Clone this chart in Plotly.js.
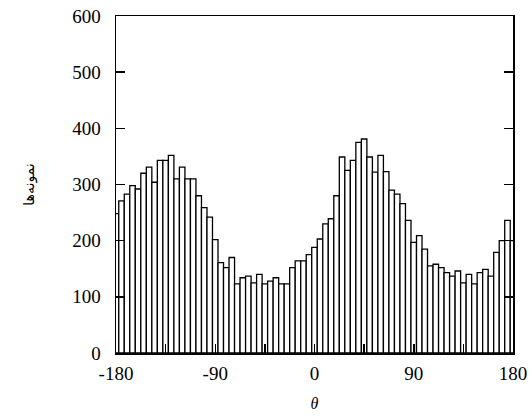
<!DOCTYPE html>
<html>
<head>
<meta charset="utf-8">
<script src="https://cdn.plot.ly/plotly-3.0.1.min.js"></script>
<style>html,body{margin:0;padding:0;background:#fff;}#chart{width:532px;height:416px;}</style>
</head>
<body>
<div id="chart"></div>
<script>
// bin centres (degrees)
const theta = [];
for (let a = -180; a <= 180; a += 5) theta.push(a);
// counts, one per 5-degree bin from -180 to 180
const counts = [
  248, 271, 283, 298, 292, 320, 331, 304, 343, 343,
  352, 310, 331, 310, 310, 280, 259, 242, 202, 161,
  152, 170, 123, 134, 137, 125, 140, 123, 128, 134,
  123, 123, 152, 164, 164, 175, 188, 203, 230, 239,
  280, 349, 325, 343, 375, 381, 349, 322, 352, 323,
  290, 283, 266, 236, 197, 209, 185, 155, 158, 152,
  143, 137, 146, 125, 140, 123, 143, 149, 137, 179,
  200, 236, 200
];
const xTickVals = [-180, -135, -90, -45, 0, 45, 90, 135, 180];
const xTickText = ['-180', '', '-90', '', '0', '', '90', '', '180'];
const yTickVals = [0, 100, 200, 300, 400, 500, 600];

const trace = {
  type: 'bar',
  x: theta,
  y: counts,
  width: 5,
  marker: {color: '#ffffff', line: {color: '#000000', width: 1.3}},
  hoverinfo: 'skip'
};

const layout = {
  width: 532, height: 416,
  margin: {l: 116, r: 19, t: 16, b: 63},
  paper_bgcolor: '#ffffff', plot_bgcolor: '#ffffff',
  showlegend: false,
  bargap: 0,
  font: {family: 'Liberation Serif, serif', color: '#000000', size: 19},
  xaxis: {
    range: [-180, 180],
    tickvals: xTickVals, ticktext: xTickText,
    ticks: 'inside', ticklen: 9, tickwidth: 1.5, tickcolor: '#000',
    ticklabelstandoff: 3,
    showline: true, linecolor: '#000', linewidth: 1.5, mirror: true,
    showgrid: false, zeroline: false,
    tickfont: {family: 'Liberation Serif, serif', size: 19, color: '#000'},
    title: {text: 'θ', font: {family: 'Liberation Serif, serif', size: 16, color: '#000', style: 'italic'}, standoff: 14}
  },
  yaxis: {
    range: [0, 600],
    tickvals: yTickVals,
    ticks: 'inside', ticklen: 9, tickwidth: 1.5, tickcolor: '#000',
    ticklabelstandoff: 10,
    showline: true, linecolor: '#000', linewidth: 1.5, mirror: 'ticks',
    showgrid: false, zeroline: false,
    tickfont: {family: 'Liberation Serif, serif', size: 19, color: '#000'},
    title: {text: 'نمونه‌ها', font: {family: 'DejaVu Sans, Noto Sans, sans-serif', size: 14, color: '#000'}, standoff: 34}
  }
};

Plotly.newPlot('chart', [trace], layout, {displayModeBar: false, staticPlot: true});
</script>
</body>
</html>
